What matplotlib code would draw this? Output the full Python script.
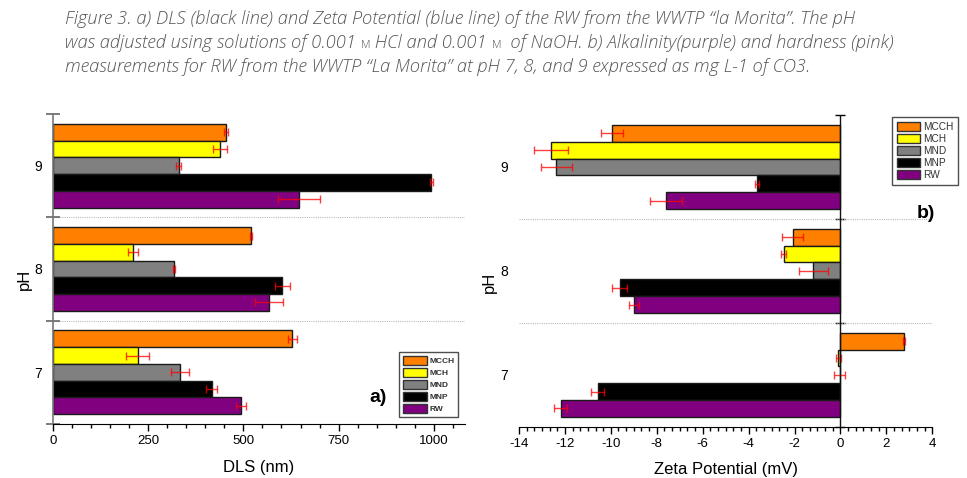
import matplotlib
matplotlib.use("Agg")
import matplotlib.pyplot as plt
import numpy as np
from matplotlib.ticker import MultipleLocator, FixedLocator, FixedFormatter, NullFormatter
from matplotlib.patches import Patch

plt.rcParams['font.family'] = ['Liberation Sans', 'DejaVu Sans']
plt.rcParams['axes.unicode_minus'] = False

ph_levels = [7, 8, 9]
series = ['MCCH', 'MCH', 'MND', 'MNP', 'RW']
colors = ['#FF8000', '#FFFF00', '#808080', '#000000', '#800080']

# DLS (nm), values for pH 7, 8, 9
dls = {
    'MCCH': [628, 520, 454],
    'MCH':  [222, 210, 438],
    'MND':  [333, 318, 330],
    'MNP':  [417, 602, 994],
    'RW':   [494, 568, 646],
}
dls_err = {
    'MCCH': [12, 3, 6],
    'MCH':  [29, 14, 18],
    'MND':  [23, 3, 6],
    'MNP':  [15, 20, 5],
    'RW':   [13, 37, 54],
}
# Zeta potential (mV), values for pH 7, 8, 9
zeta = {
    'MCCH': [2.76, -2.08, -9.96],
    'MCH':  [-0.09, -2.48, -12.61],
    'MND':  [-0.03, -1.18, -12.38],
    'MNP':  [-10.58, -9.62, -3.63],
    'RW':   [-12.19, -8.98, -7.59],
}
zeta_err = {
    'MCCH': [0.03, 0.45, 0.49],
    'MCH':  [0.12, 0.09, 0.73],
    'MND':  [0.23, 0.63, 0.67],
    'MNP':  [0.28, 0.31, 0.10],
    'RW':   [0.29, 0.22, 0.70],
}

W, H = 967, 478
fig = plt.figure(figsize=(W / 100, H / 100), dpi=100)

def fx(px):
    return px / W

def fy(py):
    return 1 - py / H

axL = fig.add_axes([fx(53), fy(424), fx(465 - 53), (424 - 114) / H])
axR = fig.add_axes([fx(519), fy(426.7), fx(932.3 - 519), (426.7 - 115) / H])

bh = 0.162
boundaries = [6.5, 7.5, 8.5, 9.5]

def draw_bars(ax, vals, errs):
    for i, s in enumerate(series):
        ypos = np.array(ph_levels) + (2 - i) * bh
        ax.barh(ypos, vals[s], height=bh, color=colors[i], edgecolor='#1a1a1a',
                linewidth=1.0, zorder=2)
        ax.errorbar(vals[s], ypos, xerr=errs[s], fmt='none', ecolor='red',
                    elinewidth=1.0, capsize=3, capthick=1.0, alpha=0.75, zorder=3)
    for b in boundaries[1:-1]:
        ax.axhline(b, color='#bbbbbb', lw=0.8, ls=(0, (1, 1)), zorder=1)
    ax.set_ylim(6.5, 9.5)
    ax.spines['top'].set_visible(False)
    ax.spines['right'].set_visible(False)
    ax.yaxis.set_major_locator(FixedLocator(boundaries))
    ax.yaxis.set_minor_locator(FixedLocator(ph_levels))
    ax.yaxis.set_minor_formatter(FixedFormatter([str(p) for p in ph_levels]))
    ax.yaxis.set_major_formatter(NullFormatter())
    ax.tick_params(axis='y', which='minor', length=0, pad=8, labelsize=10)
    ax.tick_params(axis='x', which='major', length=5, width=1, direction='out', labelsize=9.5, pad=3)
    ax.tick_params(axis='x', which='minor', length=3, width=1, direction='out')
    ax.set_ylabel('pH', fontsize=12)

# Left panel
draw_bars(axL, dls, dls_err)
axL.set_xlim(0, 1082)
axL.xaxis.set_major_locator(MultipleLocator(250))
axL.xaxis.set_minor_locator(MultipleLocator(50))
axL.tick_params(axis='y', which='major', length=10, width=1.2, direction='inout', color='#666666')
axL.spines['left'].set_color('#777777')
axL.spines['left'].set_linewidth(1.2)
axL.set_xlabel('DLS (nm)', fontsize=12, labelpad=9)
axL.yaxis.set_label_coords(-0.051, 0.465)

# Right panel
draw_bars(axR, zeta, zeta_err)
axR.set_xlim(-14, 4)
axR.xaxis.set_major_locator(MultipleLocator(2))
axR.xaxis.set_minor_locator(MultipleLocator(1 / 3))
axR.spines['left'].set_visible(False)
axR.tick_params(axis='y', which='major', length=0)
axR.axvline(0, color='#111111', lw=1.0, zorder=4)
x0, x1 = axR.get_xlim()
sec = axR.secondary_yaxis((0 - x0) / (x1 - x0))
sec.set_yticks(boundaries)
sec.tick_params(axis='y', length=7, width=1, direction='inout', labelleft=False, labelright=False)
sec.spines['right'].set_visible(False)
axR.set_xlabel('Zeta Potential (mV)', fontsize=12, labelpad=9)
axR.yaxis.set_label_coords(-0.053, 0.464)

# Legends
handles = [Patch(facecolor=c, edgecolor='#333333', linewidth=1.0, label=s) for c, s in zip(colors, series)]
legL = fig.legend(handles=handles, loc='upper left', bbox_to_anchor=(fx(399), fy(352)),
                  prop={'size': 6, 'weight': 'bold'}, frameon=True, fancybox=False, borderaxespad=0,
                  handlelength=2.9, handleheight=1.25, labelspacing=0.35,
                  handletextpad=0.3, borderpad=0.45)
legR = fig.legend(handles=handles, loc='upper left', bbox_to_anchor=(fx(892), fy(117)),
                  fontsize=7.3, frameon=True, fancybox=False, borderaxespad=0,
                  handlelength=2.3, handleheight=1.1, labelspacing=0.17,
                  handletextpad=0.3, borderpad=0.45)
for leg in (legL, legR):
    leg.get_frame().set_edgecolor('#222222')
    leg.get_frame().set_linewidth(1.0)
    for t in leg.get_texts():
        t.set_color('#333333')

fig.text(fx(378), fy(398), 'a)', fontsize=14, fontweight='bold', ha='center', va='center')
fig.text(fx(926), fy(214), 'b)', fontsize=14, fontweight='bold', ha='center', va='center')

# Caption
cap_font = dict(family=['Open Sans', 'DejaVu Sans'], style='italic', fontweight='light',
                color='#555555', fontsize=12)
lines = [
    [("Figure 3. a) DLS (black line) and Zeta Potential (blue line) of the RW from the WWTP \u201cla Morita\u201d. The pH", 1.0, 'italic')],
    [("was adjusted using solutions of 0.001 ", 1.0, 'italic'), ("M", 0.6, 'normal'), (" HCl and 0.001 ", 1.0, 'italic'),
     ("M", 0.6, 'normal'), ("  of NaOH. b) Alkalinity(purple) and hardness (pink)", 1.0, 'italic')],
    [("measurements for RW from the WWTP \u201cLa Morita\u201d at pH 7, 8, and 9 expressed as mg L-1 of CO3.", 1.0, 'italic')],
]
renderer = fig.canvas.get_renderer()
# fit font size so that first line spans the same width as in the reference (x 65..857)
probe = fig.text(0, 0, lines[0][0][0], **cap_font)
wpx = probe.get_window_extent(renderer=renderer).width
probe.remove()
cap_font['fontsize'] = cap_font['fontsize'] * (857 - 65) / wpx

baselines = [24, 48, 72]
for parts, base in zip(lines, baselines):
    xcur = fx(65)
    for txt, scale, sty in parts:
        kw = dict(cap_font)
        kw['fontsize'] = cap_font['fontsize'] * scale
        kw['style'] = sty
        t = fig.text(xcur, fy(base), txt, ha='left', va='baseline', **kw)
        bb = t.get_window_extent(renderer=renderer)
        xcur += bb.width / W

fig.savefig('out.png', dpi=100)
